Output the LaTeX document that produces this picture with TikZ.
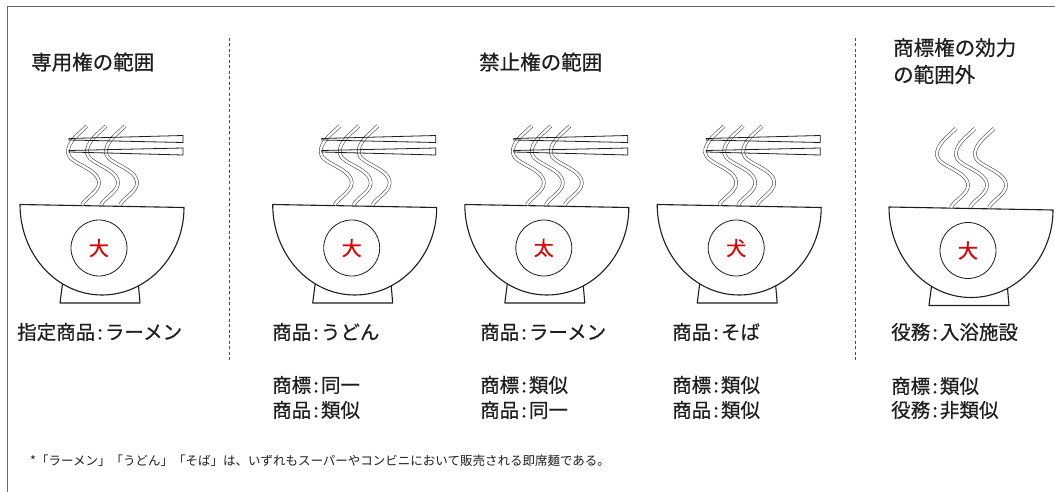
\documentclass[tikz,border=0pt]{standalone}
\usepackage{fontspec}
\setmainfont{Noto Sans CJK JP}[FakeBold=0.5]
\newfontfamily\notefont{Noto Sans CJK JP}
\definecolor{ink}{HTML}{1E1E1E}
\definecolor{stamp}{HTML}{E00000}
\definecolor{framegray}{HTML}{6A6A6A}
% half-width colon used in the labels
\newcommand\cln{\makebox[0.5em]{:}}

\tikzset{
  bowlline/.style={draw=ink, line width=1.1pt, line join=round},
  markcircle/.style={circle, draw=ink, line width=0.8pt, minimum size=56pt, inner sep=0pt,
    text=stamp, font=\fontsize{20}{20}\selectfont},
  chopstick/.style={draw=ink, line width=0.8pt, line join=miter},
  strandline/.style={draw=ink!85, line width=0.55pt, double=white, double distance=2.4pt},
  divider/.style={draw=ink!80, line width=0.8pt, dash pattern=on 3pt off 2.5pt},
  heading/.style={anchor=west, inner sep=0pt, text=ink, font=\fontsize{20.5}{27}\selectfont, align=left},
  label/.style={anchor=west, inner sep=0pt, text=ink, font=\fontsize{19.5}{25}\selectfont},
  pics/strand/.style={code={
    \draw[strandline] (0,0) .. controls (-8,8) and (-20,16) .. (-19,27)
      .. controls (-18,38) and (12,42) .. (12,57)
      .. controls (12,66) and (-2,72) .. (-5,79);
  }},
}

% one bowl: #1 name, #2 centre x, #3 vertical offset, #4 mark, #5 chopsticks (1) or steam only (0)
\newcommand\ramenbowl[5]{%
  \begin{scope}[shift={(#2,#3)}]
    % foot
    \draw[bowlline] (-39,280) -- (-42,303) -- (38,303) -- (36,280);
    % body with rim
    \draw[bowlline, fill=white] (-82,204.5) -- (82,207.5)
      .. controls (82,255.8) and (45.3,295) .. (0,295)
      .. controls (-45.3,295) and (-82,254.5) .. (-82,204.5) -- cycle;
    \node[markcircle] (#1) at (-3,248) {#4};
    % noodles or steam
    \foreach \dx in {-15,4,23} { \pic at (\dx,126) {strand}; }
    \ifnum#5=1
      \draw[chopstick] (-33,138.5) -- (81,135.5) -- (81,142.5) -- (-33,140) -- cycle;
      \draw[chopstick] (-33,150.5) -- (81,148) -- (81,155) -- (-33,152) -- cycle;
    \fi
  \end{scope}}

\begin{document}
\begin{tikzpicture}[x=1pt, y=-1pt]
  \useasboundingbox[fill=white] (0,0) rectangle (1055,492);

  % frame edges
  \coordinate (frameTR) at (1055,7);
  \coordinate (frameTL) at (7,7);
  \coordinate (frameBL) at (7,492);
  \draw[framegray, line width=1pt] (frameTR) -- (frameTL) -- (frameBL);

  % column dividers
  \coordinate (divAtop) at (229,38);
  \coordinate (divAbot) at (229,360);
  \coordinate (divBtop) at (855,38);
  \coordinate (divBbot) at (855,360);
  \draw[divider] (divAtop) -- (divAbot);
  \draw[divider] (divBtop) -- (divBbot);

  % headings
  \node[heading] (h1) at (31,62) {専用権の範囲};
  \node[heading] (h2) at (479,62) {禁止権の範囲};
  \node[heading] (h3) at (893,61) {商標権の効力\\の範囲外};

  % bowls
  \ramenbowl{m1}{102}{0}{大}{1}
  \ramenbowl{m2}{354.7}{0}{大}{1}
  \ramenbowl{m3}{546.8}{0}{太}{1}
  \ramenbowl{m4}{739.2}{0}{犬}{1}
  \ramenbowl{m5}{971}{2.5}{大}{0}

  % labels
  \node[label] (l1a) at (17,332) {指定商品\cln ラーメン};

  \node[label] (l2a) at (272,332) {商品\cln うどん};
  \node[label] (l2b) at (272,385) {商標\cln 同一};
  \node[label] (l2c) at (272,410) {商品\cln 類似};

  \node[label] (l3a) at (480,332) {商品\cln ラーメン};
  \node[label] (l3b) at (480,385) {商標\cln 類似};
  \node[label] (l3c) at (480,410) {商品\cln 同一};

  \node[label] (l4a) at (672,332) {商品\cln そば};
  \node[label] (l4b) at (672,385) {商標\cln 類似};
  \node[label] (l4c) at (672,410) {商品\cln 類似};

  \node[label] (l5a) at (891,332) {役務\cln 入浴施設};
  \node[label] (l5b) at (891,386) {商標\cln 類似};
  \node[label] (l5c) at (891,410) {役務\cln 非類似};

  % footnote
  \node[anchor=west, inner sep=0pt, text=ink] (note) at (30,461)
    {\notefont\fontsize{12.5}{15}\selectfont *「ラーメン」「うどん」「そば」は、いずれもスーパーやコンビニにおいて販売される即席麺である。};
\end{tikzpicture}
\end{document}
